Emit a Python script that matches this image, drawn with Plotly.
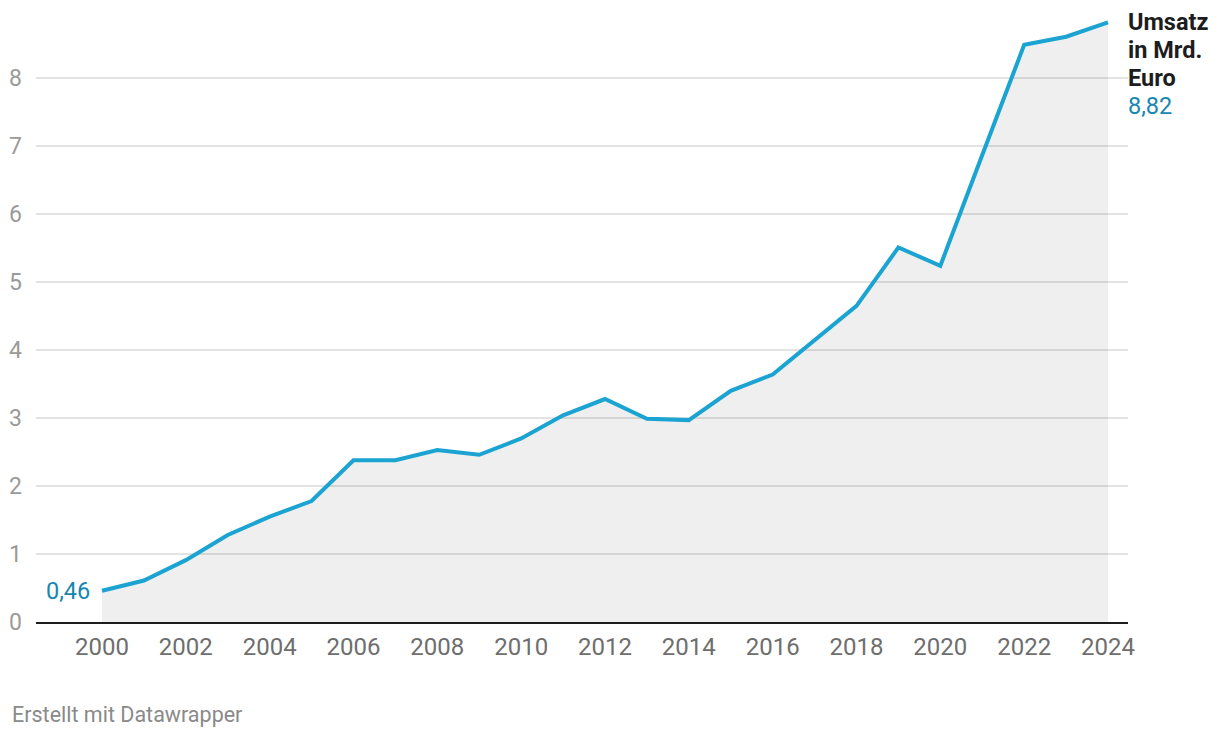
import plotly.graph_objects as go

years = list(range(2000, 2025))
umsatz = [0.46, 0.61, 0.91, 1.28, 1.55, 1.78, 2.38, 2.38, 2.53, 2.46, 2.70, 3.04,
          3.28, 2.99, 2.97, 3.40, 3.64, 4.15, 4.65, 5.51, 5.24, 6.87, 8.49, 8.61, 8.82]
y_ticks = [0, 1, 2, 3, 4, 5, 6, 7, 8]
x_ticks = list(range(2000, 2025, 2))
series_title_lines = ["Umsatz", "in Mrd.", "Euro"]
first_label = "0,46"
last_label = "8,82"
footer = "Erstellt mit Datawrapper"

LINE = "#1ba3d1"
LABEL_BLUE = "#1787b0"
FONT = "Roboto"

fig = go.Figure()
fig.add_trace(go.Scatter(
    x=years, y=umsatz, mode="lines", fill="tozeroy",
    fillcolor="rgba(0,0,0,0.063)", line=dict(width=0), hoverinfo="skip",
    showlegend=False))
fig.add_trace(go.Scatter(
    x=years, y=umsatz, mode="lines",
    line=dict(color=LINE, width=4), showlegend=False))

label_lines = [f"<b>{t}</b>" for t in series_title_lines] + [last_label]
label_colors = ["#1d1d1d"] * len(series_title_lines) + [LABEL_BLUE]
for i, (txt, col) in enumerate(zip(label_lines, label_colors)):
    fig.add_annotation(x=years[-1], y=umsatz[-1], xref="x", yref="y",
                       text=txt, showarrow=False, xanchor="left", yanchor="middle",
                       xshift=18, yshift=-28 * i,
                       font=dict(family=FONT, size=23.5, color=col))
fig.add_annotation(x=years[0], y=umsatz[0], xref="x", yref="y",
                   text=first_label, showarrow=False, xanchor="right", yanchor="middle",
                   xshift=-10, font=dict(family=FONT, size=23.5, color=LABEL_BLUE))
fig.add_annotation(x=0, y=0, xref="paper", yref="paper", text=footer,
                   showarrow=False, xanchor="left", yanchor="middle",
                   xshift=-26, yshift=-92,
                   font=dict(family=FONT, size=21.5, color="#8a8a8a"))

fig.update_layout(
    width=1220, height=738,
    margin=dict(l=36, r=92, t=17, b=116, autoexpand=False),
    paper_bgcolor="white", plot_bgcolor="white",
    font=dict(family=FONT),
    hovermode=False,
    xaxis=dict(range=[1998.426, 2024.477], tickvals=x_ticks,
               ticktext=[str(t) for t in x_ticks], showgrid=False, zeroline=False,
               showline=True, linecolor="#1d1d1d", linewidth=2, ticks="",
               ticklabelstandoff=2, automargin=False,
               tickfont=dict(family=FONT, size=24, color="#6e6e6e")),
    yaxis=dict(range=[0, 8.9], tickvals=y_ticks, ticktext=[str(t) for t in y_ticks],
               showgrid=True, gridcolor="#e3e3e3", gridwidth=2, zeroline=False,
               ticks="", ticklabelstandoff=13, automargin=False,
               tickfont=dict(family=FONT, size=23, color="#9a9a9a")),
)

fig.write_html("out.html", config={"displayModeBar": False},
               post_script="document.body.style.margin='0';")
